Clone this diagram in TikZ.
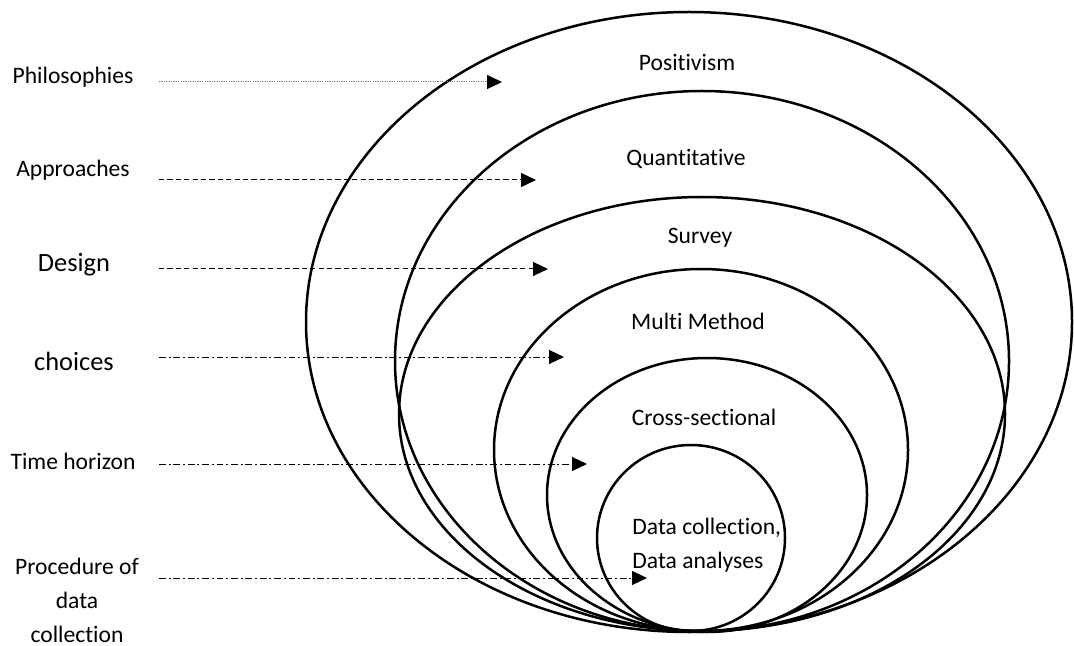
\documentclass[tikz,border=0pt]{standalone}
\usepackage{fontspec}
\setmainfont{Carlito}[Ligatures=NoCommon]
\usetikzlibrary{arrows.meta}
\tikzset{
  onion/.style={line width=1.25pt},
  tag/.style={font=\fontsize{11.8}{17}\selectfont, inner sep=0pt},
  bigtag/.style={font=\fontsize{13.2}{17}\selectfont, inner sep=0pt},
  link/.style={line width=0.5pt, -{Triangle[length=7.5pt,width=7pt,color=black]}},
  dots/.style={link, gray, dash pattern=on 0.6pt off 0.6pt},
  dashes/.style={link, dash pattern=on 2.6pt off 1.6pt},
  dashdots/.style={link, dash pattern=on 3.4pt off 1.4pt on 1pt off 1.4pt},
}
\begin{document}
\begin{tikzpicture}[x=0.5pt,y=-0.5pt]
    \useasboundingbox (0,0) rectangle (1074,646);
    % layers of the onion
    \draw[onion] (689,322) ellipse [x radius=383, y radius=310];
    \draw[onion] (702,361) ellipse [x radius=307, y radius=270];
    \draw[onion] (702,414) ellipse [x radius=303, y radius=217];
    \draw[onion] (701,450) ellipse [x radius=207, y radius=181];
    \draw[onion] (707,495) ellipse [x radius=160, y radius=137];
    \draw[onion] (691,538) ellipse [x radius=94, y radius=93];
    \node[tag] (posit) at (687,62) {Positivism};
    \node[tag] (quant) at (686,159) {Quantitative};
    \node[tag] (surv) at (700,238) {Survey};
    \node[tag] (multi) at (698,321) {Multi Method};
    \node[tag] (cross) at (704,417) {Cross-sectional};
    \node[tag, align=left, anchor=north west] (datacol) at (632,518) {Data collection,\\Data analyses};
    % labels on the left
    \node[tag] (phil) at (73,77) {Philosophies};
    \node[tag] (appr) at (73,170) {Approaches};
    \node[bigtag] (desg) at (74,265) {Design};
    \node[bigtag] (choi) at (74,361) {choices};
    \node[tag] (time) at (73,461) {Time horizon};
    \node[tag, align=center] (proc) at (77,600) {Procedure of\\data\\collection};
    \coordinate (phil-s) at (159,82);   \coordinate (phil-e) at (502,82);
    \coordinate (appr-s) at (159,180);  \coordinate (appr-e) at (536,180);
    \coordinate (desg-s) at (159,269);  \coordinate (desg-e) at (548,269);
    \coordinate (choi-s) at (159,357);  \coordinate (choi-e) at (564,357);
    \coordinate (time-s) at (159,464);  \coordinate (time-e) at (587,464);
    \coordinate (proc-s) at (159,578);  \coordinate (proc-e) at (647,578);
    \draw[dots] (phil-s) -- (phil-e);
    \draw[dashes] (appr-s) -- (appr-e);
    \draw[dashes] (desg-s) -- (desg-e);
    \draw[dashdots] (choi-s) -- (choi-e);
    \draw[dashdots] (time-s) -- (time-e);
    \draw[dashdots] (proc-s) -- (proc-e);
\end{tikzpicture}
\end{document}
